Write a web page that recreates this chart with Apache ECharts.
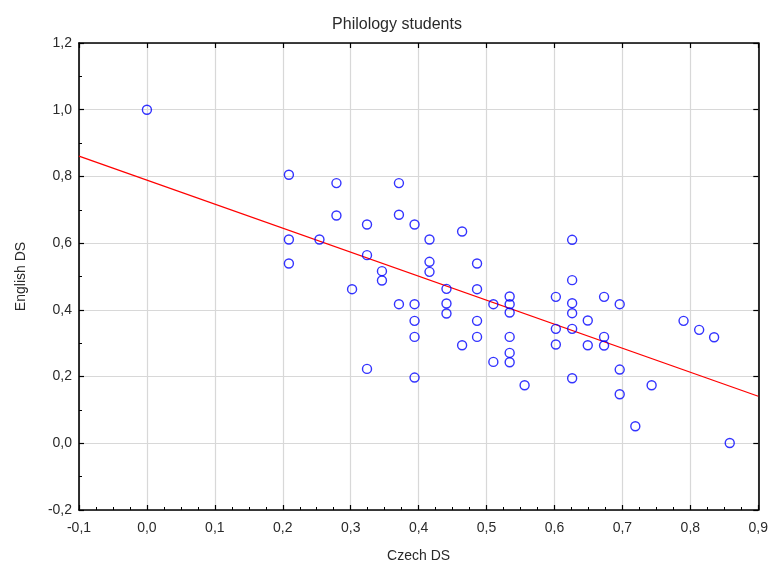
<!DOCTYPE html>
<html>
<head>
<meta charset="utf-8">
<script src="https://cdn.jsdelivr.net/npm/echarts@6/dist/echarts.min.js"></script>
<style>html,body{margin:0;padding:0;background:#fff}#c{width:771px;height:568px}</style>
</head>
<body>
<div id="c"></div>
<script>
// Czech DS (x) and English DS (y) for each student
const czechDS = [
  0.000, 0.209, 0.209, 0.209, 0.254, 0.279, 0.279, 0.302, 0.324, 0.324, 0.324,
  0.346, 0.346, 0.371, 0.371, 0.371, 0.394, 0.394, 0.394, 0.394, 0.394,
  0.416, 0.416, 0.416, 0.441, 0.441, 0.441, 0.464, 0.464,
  0.486, 0.486, 0.486, 0.486, 0.510, 0.510,
  0.534, 0.534, 0.534, 0.534, 0.534, 0.534, 0.556,
  0.602, 0.602, 0.602, 0.626, 0.626, 0.626, 0.626, 0.626, 0.626,
  0.649, 0.649, 0.673, 0.673, 0.673, 0.696, 0.696, 0.696, 0.719, 0.743,
  0.790, 0.813, 0.835, 0.858
];
const englishDS = [
  1.000, 0.805, 0.611, 0.539, 0.611, 0.780, 0.683, 0.462, 0.656, 0.564, 0.223,
  0.516, 0.488, 0.780, 0.685, 0.417, 0.656, 0.417, 0.367, 0.319, 0.197,
  0.611, 0.544, 0.514, 0.463, 0.419, 0.389, 0.635, 0.294,
  0.539, 0.462, 0.367, 0.319, 0.417, 0.244,
  0.440, 0.417, 0.392, 0.319, 0.271, 0.243, 0.174,
  0.439, 0.343, 0.296, 0.610, 0.489, 0.420, 0.390, 0.343, 0.195,
  0.368, 0.294, 0.439, 0.319, 0.293, 0.417, 0.221, 0.147, 0.051, 0.174,
  0.367, 0.340, 0.318, 0.001
];
// Fitted regression line endpoints
const fitX = [-0.1, 0.9];
const fitY = [0.861, 0.141];

const title = 'Philology students';
const xName = 'Czech DS';
const yName = 'English DS';

const fmt = v => v.toFixed(1).replace('.', ',');
const font = 'Liberation Sans, Arial, sans-serif';
const txt = '#2a2a2a';

const pts = czechDS.map((x, i) => [x, englishDS[i]]);
const line = fitX.map((x, i) => [x, fitY[i]]);

const chart = echarts.init(document.getElementById('c'), null, {renderer: 'canvas'});
const frameLine = {show: true, onZero: false, lineStyle: {color: '#000', width: 1.6}};
const tickIn = {show: true, inside: true, length: 5, lineStyle: {color: '#000', width: 1.2}};
chart.setOption({
  animation: false,
  backgroundColor: '#fff',
  title: {
    text: title, left: 392, top: 12, textAlign: 'center',
    textStyle: {fontFamily: font, fontSize: 16, fontWeight: 'normal', color: txt}
  },
  grid: {left: 79, right: 12, top: 43, bottom: 55, containLabel: false},
  xAxis: [{
    type: 'value', min: -0.1, max: 0.9, interval: 0.1, position: 'bottom',
    name: xName, nameLocation: 'middle', nameGap: 39,
    nameTextStyle: {fontFamily: font, fontSize: 14, color: txt},
    axisLine: frameLine, axisTick: tickIn,
    minorTick: {show: true, splitNumber: 4, length: 3, lineStyle: {color: '#000', width: 1}},
    splitLine: {show: true, lineStyle: {color: '#d8d8d8', width: 1.2}},
    axisLabel: {formatter: fmt, fontFamily: font, fontSize: 14, color: txt, margin: 11}
  }, {
    type: 'value', min: -0.1, max: 0.9, interval: 0.1, position: 'top',
    axisLine: frameLine, axisTick: tickIn, axisLabel: {show: false}, splitLine: {show: false}
  }],
  yAxis: [{
    type: 'value', min: -0.2, max: 1.2, interval: 0.2, position: 'left',
    name: yName, nameLocation: 'middle', nameGap: 51, nameRotate: 90,
    nameTextStyle: {fontFamily: font, fontSize: 14, color: txt},
    axisLine: frameLine, axisTick: tickIn,
    minorTick: {show: true, splitNumber: 2, length: 3, lineStyle: {color: '#000', width: 1}},
    splitLine: {show: true, lineStyle: {color: '#d8d8d8', width: 1.2}},
    axisLabel: {formatter: fmt, fontFamily: font, fontSize: 14, color: txt, margin: 7}
  }, {
    type: 'value', min: -0.2, max: 1.2, interval: 0.2, position: 'right',
    axisLine: frameLine, axisTick: tickIn, axisLabel: {show: false}, splitLine: {show: false}
  }],
  series: [{
    type: 'line', data: line, showSymbol: false, silent: true,
    lineStyle: {color: '#ff0000', width: 1.3}, z: 3
  }, {
    type: 'scatter', data: pts, symbol: 'circle', symbolSize: 9,
    itemStyle: {color: 'rgba(255,255,255,0)', borderColor: '#0000ff', borderWidth: 1.4}, z: 4
  }]
});
</script>
</body>
</html>
